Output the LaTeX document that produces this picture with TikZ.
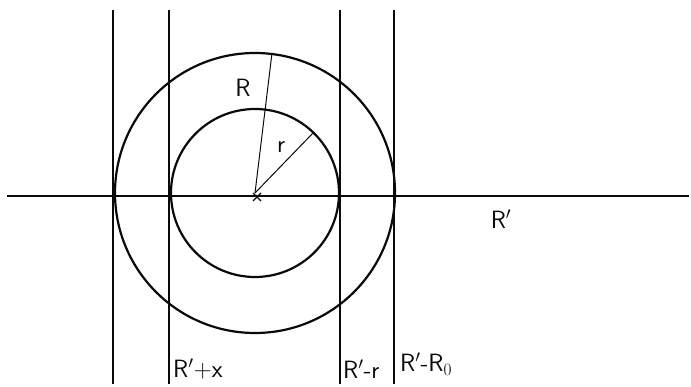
\documentclass[tikz,border=0pt]{standalone}
\usepackage{amsmath}
\usepackage{tikz}
\usetikzlibrary{calc}
\definecolor{ink}{RGB}{10,10,10}
\tikzset{
  heavy/.style={ink,line width=2.2pt},
  thinr/.style={ink,line width=1pt},
  lbl/.style={ink,font=\fontsize{25}{30}\selectfont\sffamily,inner sep=1pt}
}

\begin{document}
\begin{tikzpicture}[x=1pt,y=-1pt]
  \useasboundingbox (0,0) rectangle (691,387);
  % centre and the two radii
  \def\Rb{140}\def\rs{84}
  \coordinate (O) at (255,193);
  % axis R'
  \coordinate (axL) at (7,196);
  \coordinate (axR) at (689,196);
  \draw[heavy] (axL) -- (axR);
  % circles
  \draw[heavy] (O) circle (\Rb);
  \draw[heavy] (O) circle (\rs);
  % vertical lines, tangent to the circles
  \foreach \nm/\xx in {a/113,b/169,c/340,d/394}{
    \coordinate (\nm top) at (\xx,10);
    \coordinate (\nm bot) at (\xx,384);
    \draw[heavy] (\nm top) -- (\nm bot);
  }
  % radius lines
  \coordinate (Rend) at (272,53);
  \coordinate (rend) at (313,133);
  \draw[thinr] (O) -- (Rend);
  \draw[thinr] (O) -- (rend);
  % star at the centre
  \coordinate (star) at (257,197);
  \draw[ink,line width=1.4pt] ($(star)+(-4,-4)$) -- ($(star)+(4,4)$)
    ($(star)+(-4,4)$) -- ($(star)+(4,-4)$);
  % labels
  \node[lbl] (labR) at (243,88) {R};
  \node[lbl] (labr) at (281,147) {r};
  \node[lbl] (labRp) at (501,219) {R$'$};
  \node[lbl,right] (labA) at (172,369) {R$'$+x};
  \node[lbl,right] (labB) at (342,369) {R$'$-r};
  \node[lbl,right] (labC) at (399,364) {R$'$-R$_0$};
\end{tikzpicture}
\end{document}
